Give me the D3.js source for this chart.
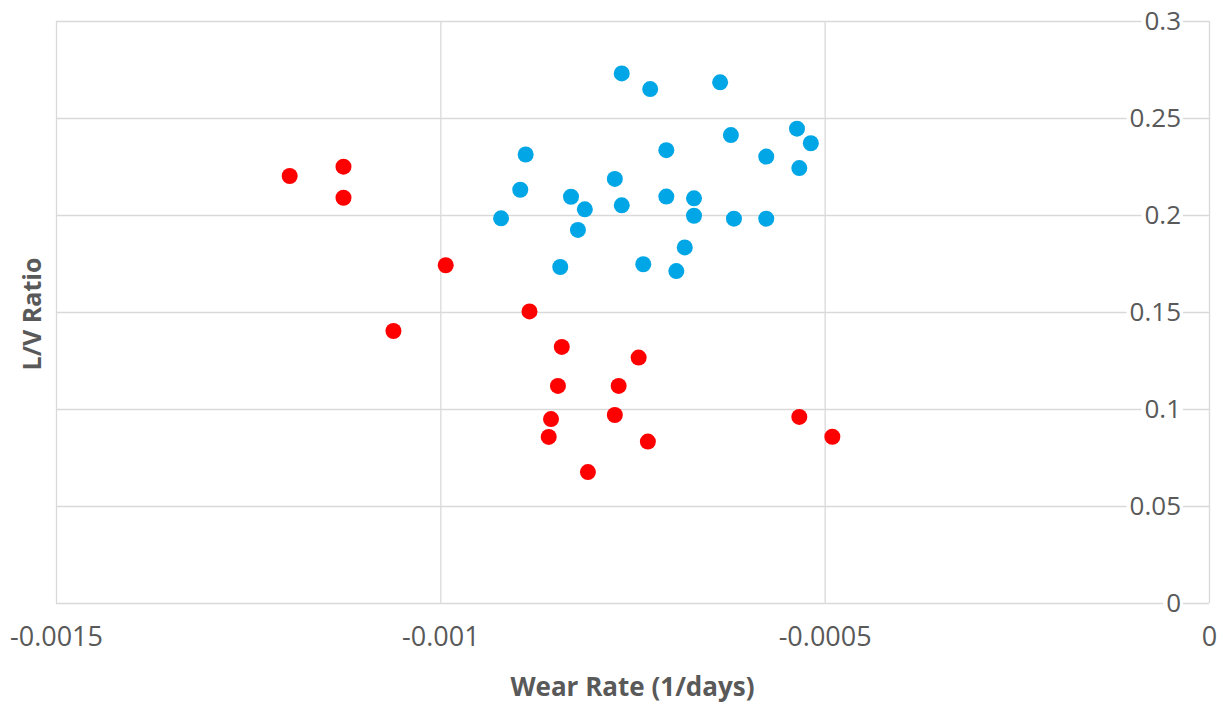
<!DOCTYPE html>
<html>
<head>
<meta charset="utf-8">
<script src="https://cdn.jsdelivr.net/npm/d3@7"></script>
<style>
  html, body { margin: 0; padding: 0; background: #ffffff; }
  svg { display: block; }
</style>
</head>
<body>
<svg id="chart" width="1225" height="706"></svg>
<script>
// ---- data ----
const redX = [-0.001196, -0.001126, -0.001126, -0.000993, -0.001061, -0.000884, -0.000842, -0.000847,
              -0.000856, -0.000859, -0.000808, -0.000742, -0.000768, -0.000773, -0.000730, -0.000533, -0.000490];
const redY = [0.2201, 0.2249, 0.2089, 0.1741, 0.1402, 0.1503, 0.1320, 0.1119,
              0.0948, 0.0856, 0.0675, 0.1265, 0.1119, 0.0969, 0.0832, 0.0959, 0.0857];

const blueX = [-0.000764, -0.000727, -0.000636, -0.000889, -0.000706, -0.000622, -0.000536, -0.000518,
               -0.000576, -0.000533, -0.000896, -0.000773, -0.000830, -0.000764, -0.000812, -0.000706,
               -0.000670, -0.000921, -0.000670, -0.000618, -0.000576, -0.000821, -0.000682, -0.000844,
               -0.000736, -0.000693];
const blueY = [0.2730, 0.2649, 0.2684, 0.2312, 0.2334, 0.2412, 0.2445, 0.2370,
               0.2301, 0.2242, 0.2130, 0.2186, 0.2094, 0.2050, 0.2029, 0.2095,
               0.2086, 0.1983, 0.1996, 0.1981, 0.1981, 0.1923, 0.1833, 0.1732,
               0.1746, 0.1711];

const xTicks = [-0.0015, -0.001, -0.0005, 0];
const xTickLabels = ["-0.0015", "-0.001", "-0.0005", "0"];
const yTicks = [0, 0.05, 0.1, 0.15, 0.2, 0.25, 0.3];
const yTickLabels = ["0", "0.05", "0.1", "0.15", "0.2", "0.25", "0.3"];

const xTitle = "Wear Rate (1/days)";
const yTitle = "L/V Ratio";

// ---- layout ----
const plot = { left: 56, right: 1209, top: 21, bottom: 603 };
const svg = d3.select("#chart");
const FONT = "'Open Sans', 'Liberation Sans', sans-serif";
const textColor = "#595959";
const gridColor = "#d9d9d9";

const x = d3.scaleLinear().domain([-0.0015, 0]).range([plot.left, plot.right]);
const y = d3.scaleLinear().domain([0, 0.3]).range([plot.bottom, plot.top]);

// vertical gridlines
const gx = svg.append("g")
  .attr("transform", `translate(0,${plot.bottom})`)
  .call(d3.axisBottom(x).tickValues(xTicks)
        .tickSize(-(plot.bottom - plot.top))
        .tickFormat((d, i) => xTickLabels[i]));
gx.select(".domain").remove();
gx.selectAll(".tick line").attr("stroke", gridColor).attr("stroke-width", 1.3);
gx.selectAll(".tick text")
  .attr("y", 24)
  .attr("dy", "0.71em")
  .attr("fill", textColor)
  .style("font-family", FONT)
  .style("font-size", "27px");

// horizontal gridlines
const gy = svg.append("g")
  .attr("transform", `translate(${plot.right},0)`)
  .call(d3.axisLeft(y).tickValues(yTicks)
        .tickSize(plot.right - plot.left)
        .tickFormat((d, i) => yTickLabels[i]));
gy.select(".domain").remove();
gy.selectAll(".tick line").attr("stroke", gridColor).attr("stroke-width", 1.3);
gy.selectAll(".tick text")
  .attr("x", -28)
  .attr("text-anchor", "end")
  .attr("fill", textColor)
  .style("font-family", FONT)
  .style("font-size", "26px");
// white background behind y tick labels
gy.selectAll(".tick").each(function() {
  const t = d3.select(this).select("text");
  const bb = t.node().getBBox();
  d3.select(this).insert("rect", "text")
    .attr("x", bb.x - 3).attr("y", bb.y + 3)
    .attr("width", bb.width + 5).attr("height", bb.height - 6)
    .attr("fill", "#ffffff");
});

// points
const pts = svg.append("g");
pts.selectAll("circle.blue")
  .data(blueX.map((v, i) => [v, blueY[i]]))
  .join("circle")
  .attr("class", "blue")
  .attr("cx", d => x(d[0]))
  .attr("cy", d => y(d[1]))
  .attr("r", 8)
  .attr("fill", "#00a6e6");
pts.selectAll("circle.red")
  .data(redX.map((v, i) => [v, redY[i]]))
  .join("circle")
  .attr("class", "red")
  .attr("cx", d => x(d[0]))
  .attr("cy", d => y(d[1]))
  .attr("r", 8)
  .attr("fill", "#ff0000");

// axis titles
svg.append("text")
  .attr("x", (plot.left + plot.right) / 2)
  .attr("y", 696)
  .attr("text-anchor", "middle")
  .attr("fill", textColor)
  .style("font-family", FONT)
  .style("font-weight", "bold")
  .style("font-size", "26px")
  .text(xTitle);

svg.append("text")
  .attr("transform", `translate(41,${(plot.top + plot.bottom) / 2 + 2}) rotate(-90)`)
  .attr("text-anchor", "middle")
  .attr("fill", textColor)
  .style("font-family", FONT)
  .style("font-weight", "bold")
  .style("font-size", "25px")
  .text(yTitle);
</script>
</body>
</html>
